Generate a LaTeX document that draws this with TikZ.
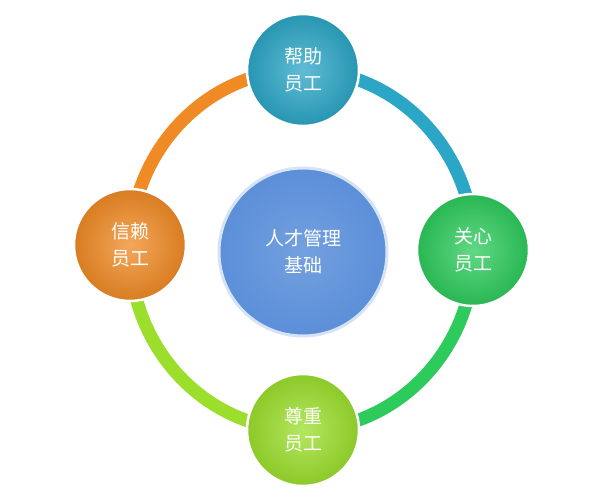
\documentclass[tikz,border=0pt]{standalone}
\usepackage{fontspec}
\newfontfamily\cjk{Noto Sans CJK SC}
\begin{document}
\begin{tikzpicture}[x=1pt,y=1pt,
  ball/.style={circle,minimum size=#1,draw=white,line width=2.5pt,text=white,font=\cjk\fontsize{19}{27}\selectfont,align=center},
  seg/.style={line width=13pt}]
\useasboundingbox (0,0) rectangle (610,496);
\definecolor{cteal}{HTML}{2BA6C6}
\definecolor{cgreen}{HTML}{2DCB5C}
\definecolor{cyg}{HTML}{9BDF2C}
\definecolor{corange}{HTML}{F08A24}
\definecolor{cblue}{HTML}{5B8FD9}
\coordinate (c) at (302,246);
\draw[seg,cteal] ([shift={(90:172 and 180)}]c) arc[start angle=90,end angle=0,x radius=172,y radius=180];
\draw[seg,cgreen] ([shift={(0:172 and 180)}]c) arc[start angle=0,end angle=-90,x radius=172,y radius=180];
\draw[seg,cyg] ([shift={(-90:172 and 180)}]c) arc[start angle=-90,end angle=-180,x radius=172,y radius=180];
\draw[seg,corange] ([shift={(180:172 and 180)}]c) arc[start angle=180,end angle=90,x radius=172,y radius=180];
\node[ball=168pt,fill=cblue,draw=cblue!25,line width=3pt,inner color=cblue!85!white,outer color=cblue] (m) at (303,244) {人才管理\\基础};
\node[ball=112pt,inner color=cteal!75!white,outer color=cteal!90!black] (t) at (303,426) {帮助\\员工};
\node[ball=112pt,inner color=cgreen!75!white,outer color=cgreen!90!black] (r) at (473,246) {关心\\员工};
\node[ball=112pt,inner color=cyg!75!white,outer color=cyg!90!black] (b) at (303,66) {尊重\\员工};
\node[ball=112pt,inner color=corange!75!white,outer color=corange!90!black] (l) at (130,251) {信赖\\员工};
\end{tikzpicture}
\end{document}
